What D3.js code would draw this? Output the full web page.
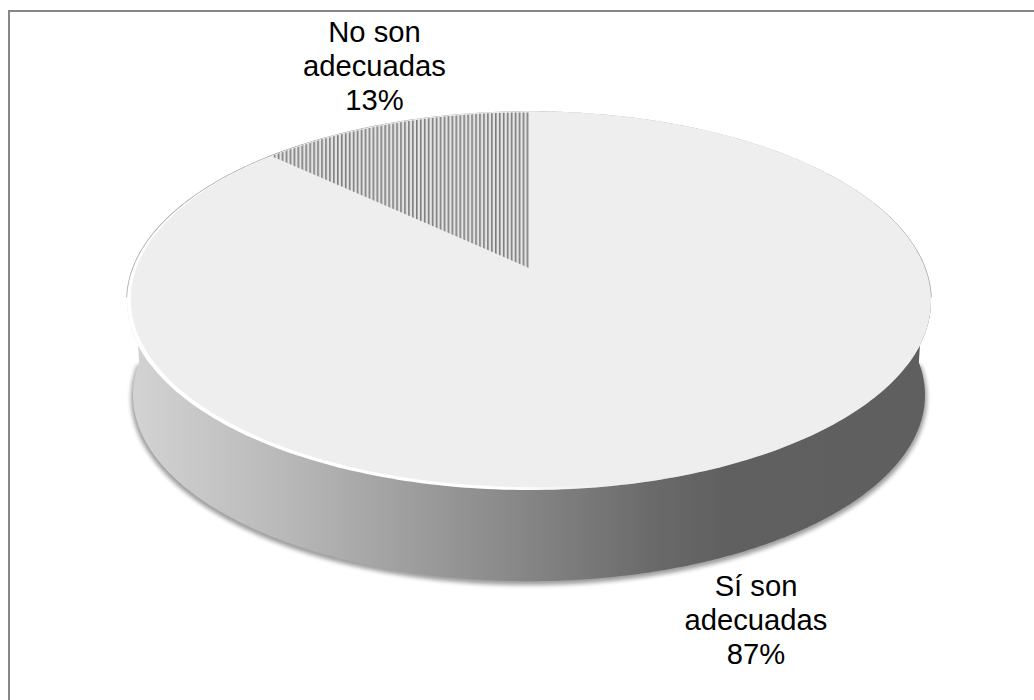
<!DOCTYPE html>
<html><head><meta charset="utf-8">
<script src="https://cdn.jsdelivr.net/npm/d3@7"></script>
<style>html,body{margin:0;background:#fff}svg{display:block}</style></head>
<body><svg id="c" width="1034" height="700"></svg>
<script>
const categories = ["No son adecuadas", "Sí son adecuadas"];
const values = [13, 87];
const labelLines = [["No son","adecuadas","13%"],["Sí son","adecuadas","87%"]];

const svg = d3.select("#c");
const W = 1034, H = 700;
const cx = 529, cy = 301, rx = 402, ry = 189, tilt = -0.175, depth = 94;

// perspective projection of the unit-circle pie onto the top face
const project = (ang, r=1, dy=0, k=1) => {
  const x = Math.sin(ang)*r, y = -Math.cos(ang)*r;
  const d = 1 + tilt*y;
  const px = x*Math.sqrt(1-tilt*tilt)/d, py = (y+tilt)/d;
  return [cx + px*rx*k, cy + py*ry*k + dy];
};
const line = d3.line();
const pie = d3.pie().sort(null).value(d=>d);
const tau = 2*Math.PI;
const arcs = pie.startAngle(-values[0]/100*tau).endAngle(tau-values[0]/100*tau)(values);
const rim = (a0,a1,dy=0,k=1,n=360) => d3.range(0,n+1).map(i=>project(a0+(a1-a0)*i/n,1,dy,k));

const defs = svg.append("defs");
const hGrad = (id,stops)=>{
  const g = defs.append("linearGradient").attr("id",id).attr("gradientUnits","userSpaceOnUse")
    .attr("x1",cx-rx).attr("x2",cx+rx).attr("y1",0).attr("y2",0);
  stops.forEach(([o,c])=>g.append("stop").attr("offset",o).attr("stop-color",c));
};
hGrad("side",[[0,"#d4d4d4"],[0.2,"#b8b8b8"],[0.34,"#a0a0a0"],[0.5,"#858585"],[0.665,"#686868"],[0.75,"#606060"],[1,"#5f5f5f"]]);
hGrad("bevel",[[0,"#ffffff"],[0.46,"#ffffff"],[0.6,"#eeeeee"],[1,"#eeeeee"]]);
const hatch = defs.append("pattern").attr("id","hatch").attr("patternUnits","userSpaceOnUse")
  .attr("width",3.95).attr("height",8).attr("x",cx-2.4);
hatch.append("rect").attr("width",3.95).attr("height",8).attr("fill","#e4e4e4");
hatch.append("rect").attr("width",1.6).attr("height",8).attr("fill","#7c7c7c");
const blur = (id,s)=>defs.append("filter").attr("id",id).attr("filterUnits","userSpaceOnUse")
  .attr("x",0).attr("y",0).attr("width",W).attr("height",H)
  .append("feGaussianBlur").attr("stdDeviation",s);
blur("b2",2.2); blur("b07",0.7); blur("b04",0.4);

// frame: only the top and left edges are in view
const frameColor = "#868686";
svg.append("line").attr("x1",8).attr("x2",W).attr("y1",11).attr("y2",11).attr("stroke",frameColor).attr("stroke-width",2);
svg.append("line").attr("x1",9).attr("x2",9).attr("y1",10).attr("y2",H).attr("stroke",frameColor).attr("stroke-width",2);

// side wall with soft shadow
const lowerK = 0.985;
const wall = rim(Math.PI/2,3*Math.PI/2,0,1).concat(rim(3*Math.PI/2,Math.PI/2,depth,lowerK));
svg.append("path").attr("d",line(rim(Math.PI/2,3*Math.PI/2,depth+3,lowerK+0.005))+"Z")
  .attr("fill","#000").attr("opacity",0.38).attr("filter","url(#b2)");
svg.append("path").attr("d",line(wall)+"Z").attr("fill","url(#side)").attr("filter","url(#b04)");

// top face: grey outline on the far side, white bevel on the near-left side
svg.append("path").attr("d",line(rim(-Math.PI*0.55,Math.PI*0.55))).attr("fill","none")
  .attr("stroke","#a8a8a8").attr("stroke-width",1.6).attr("filter","url(#b04)");
svg.append("path").attr("d",line(rim(0,tau))+"Z").attr("fill","url(#bevel)").attr("filter","url(#b04)");
const faceShift = "translate(1.4,-1.8)";
svg.append("path").attr("d",line(rim(0,tau,0,0.994))+"Z").attr("transform",faceShift)
  .attr("fill","#eeeeee").attr("filter","url(#b07)");
svg.selectAll("path.face").data([arcs[0]]).join("path").attr("class","face")
  .attr("d",d=>line([project(0,0)].concat(rim(d.startAngle,d.endAngle,0,0.998,60)))+"Z")
  .attr("fill","url(#hatch)").attr("filter","url(#b04)");

// labels
const labelPos = [[374.5,42],[756,596]];
arcs.forEach((a,i)=>{
  const t = svg.append("text").attr("text-anchor","middle")
    .attr("font-family","Liberation Sans, Arial, sans-serif").attr("font-size",29.2).attr("fill","#000");
  labelLines[i].forEach((s,j)=>t.append("tspan").attr("x",labelPos[i][0]).attr("y",labelPos[i][1]+j*34).text(s));
});
</script></body></html>
